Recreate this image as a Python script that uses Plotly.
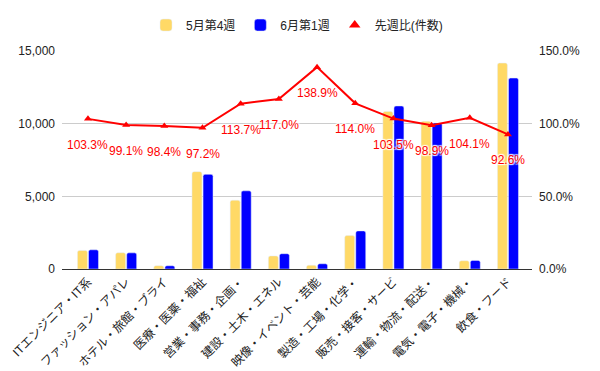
import plotly.graph_objects as go

categories = ["ITエンジニア・IT系", "ファッション・アパレ", "ホテル・旅館・ブライ", "医療・医薬・福祉",
              "営業・事務・企画・", "建設・土木・エネル", "映像・イベント・芸能", "製造・工場・化学・",
              "販売・接客・サービ", "運輸・物流・配送・", "電気・電子・機械・", "飲食・フード"]
may_w4 = [1280, 1120, 227, 6700, 4730, 900, 260, 2300, 10840, 10160, 570, 14170]
jun_w1 = [1322, 1110, 223, 6512, 5378, 1053, 361, 2622, 11220, 10048, 593, 13140]
ratio = [103.3, 99.1, 98.4, 97.2, 113.7, 117.0, 138.9, 114.0, 103.5, 98.9, 104.1, 92.6]

FONT = "Liberation Sans, Arial, Noto Sans CJK JP, sans-serif"
YELLOW = "#ffd966"
BLUE = "#0000ff"
RED = "#ff0000"

fig = go.Figure()
fig.add_trace(go.Bar(x=categories, y=may_w4, name="5月第4週", marker_color=YELLOW))
fig.add_trace(go.Bar(x=categories, y=jun_w1, name="6月第1週", marker_color=BLUE))
fig.add_trace(go.Scatter(x=categories, y=ratio, yaxis="y2", mode="lines+markers",
                         line=dict(color=RED, width=2),
                         marker=dict(symbol="triangle-up", size=7, color=RED),
                         showlegend=False, name="先週比(件数)"))
fig.add_trace(go.Scatter(x=[None], y=[None], yaxis="y2", mode="markers",
                         marker=dict(symbol="triangle-up", size=10, color=RED),
                         name="先週比(件数)"))

for c, r in zip(categories, ratio):
    fig.add_annotation(x=c, y=r, yref="y2", text=f"{r:.1f}%", showarrow=False,
                       yshift=-26,
                       font=dict(color=RED, size=12, family=FONT,
                                 shadow="1px 1px 1px #fff, -1px -1px 1px #fff, 1px -1px 1px #fff, -1px 1px 1px #fff"))

fig.update_layout(
    width=592, height=363,
    margin=dict(l=54, r=68, t=43, b=102, autoexpand=False),
    paper_bgcolor="white", plot_bgcolor="white",
    font=dict(family=FONT, size=12, color="#222"),
    barmode="group", bargap=0.42, bargroupgap=0.1, barcornerradius=2,
    legend=dict(orientation="h", x=0.5, xanchor="center", y=1.119, yanchor="middle",
                font=dict(size=12, color="#222"), itemwidth=30),
    xaxis=dict(range=[-0.68, 11.63], tickangle=-45, showgrid=False, automargin=False,
               showline=True, linecolor="#333", linewidth=1, ticks="",
               tickfont=dict(size=12, color="#222")),
    yaxis=dict(range=[0, 15000], dtick=5000, tickformat=",", showgrid=True, automargin=False,
               gridcolor="#cccccc", zeroline=False, ticks="", ticklabelstandoff=6),
    yaxis2=dict(range=[0, 150], dtick=50, tickformat=".1f", ticksuffix="%", automargin=False,
                overlaying="y", side="right", showgrid=False, zeroline=False,
                ticks="", ticklabelstandoff=6),
)

fig.write_html("out.html")
